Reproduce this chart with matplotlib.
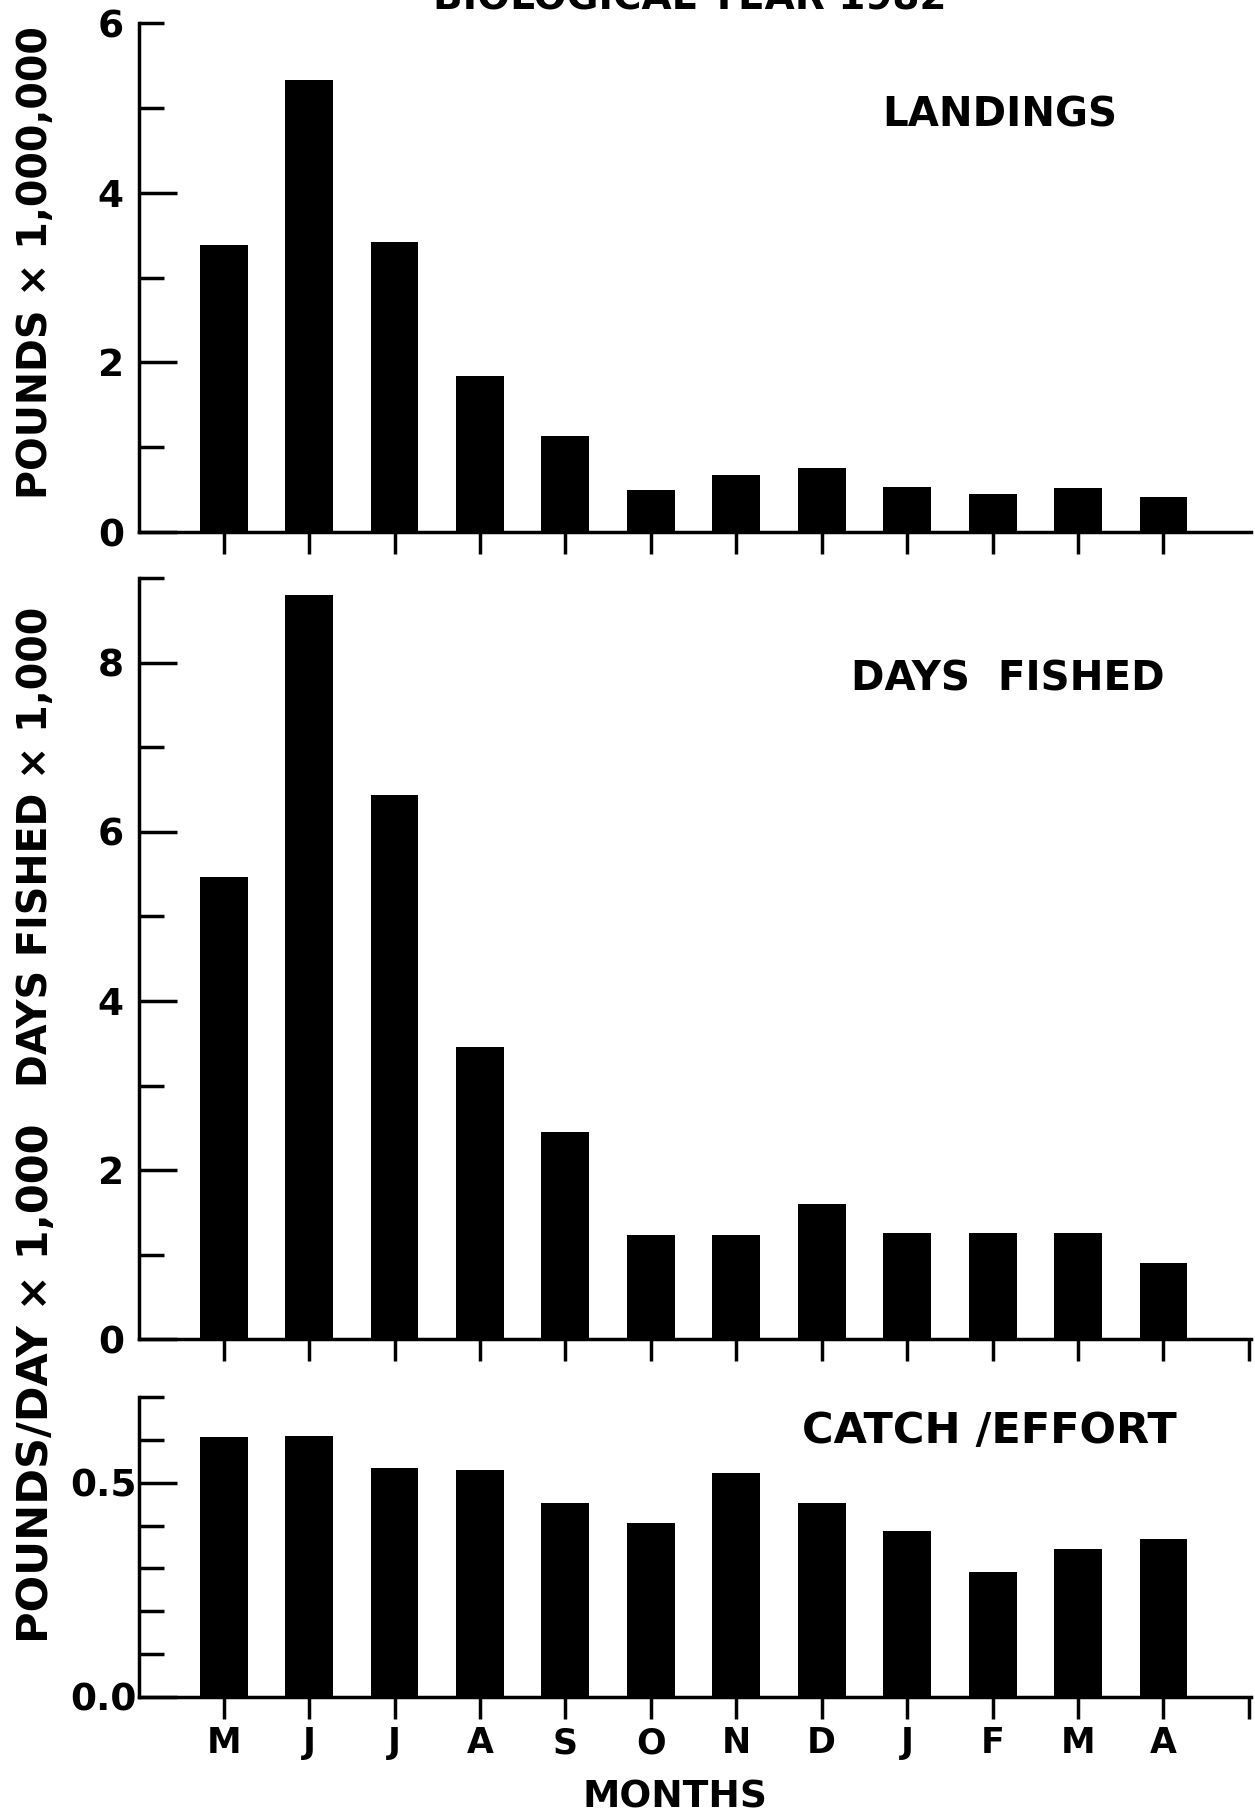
import matplotlib
matplotlib.use('Agg')
import matplotlib.pyplot as plt
import numpy as np
from matplotlib.ticker import FixedLocator, MultipleLocator

plt.rcParams['font.family'] = ['DejaVu Sans']
plt.rcParams['font.weight'] = 'bold'

months = ['M', 'J', 'J', 'A', 'S', 'O', 'N', 'D', 'J', 'F', 'M', 'A']
landings = [3.38, 5.33, 3.42, 1.84, 1.13, 0.50, 0.67, 0.75, 0.53, 0.45, 0.52, 0.41]
days_fished = [5.47, 8.80, 6.43, 3.46, 2.45, 1.23, 1.24, 1.60, 1.26, 1.26, 1.26, 0.90]
catch_effort = [0.608, 0.610, 0.534, 0.531, 0.454, 0.406, 0.524, 0.453, 0.387, 0.291, 0.346, 0.369]

x = np.arange(len(months))
width = 0.56
lw = 2.5

fig = plt.figure(figsize=(12.55, 18.14), dpi=100)

left = 0.1108
w = 0.8864
ax1 = fig.add_axes([left, 0.7067, w, 0.2806])
ax2 = fig.add_axes([left, 0.2616, w, 0.4198])
ax3 = fig.add_axes([left, 0.0645, w, 0.1653])


def style(ax, vals, ymax, majors, minor_step, end_tick=False):
    ax.bar(x, vals, width, color='black')
    ax.set_xlim(-0.99, 12.03)
    ax.set_ylim(0, ymax)
    for s in ['top', 'right']:
        ax.spines[s].set_visible(False)
    ax.spines['left'].set_linewidth(lw)
    ax.spines['bottom'].set_linewidth(lw)
    ax.yaxis.set_major_locator(FixedLocator(majors))
    ax.yaxis.set_minor_locator(MultipleLocator(minor_step))
    ax.tick_params(axis='y', which='major', direction='in', length=27, width=lw,
                   labelsize=27, pad=11)
    ax.tick_params(axis='y', which='minor', direction='in', length=18, width=lw)
    ticks = list(x)
    if end_tick:
        ticks.append(12)
    ax.set_xticks(ticks)
    ax.set_xticklabels([])
    ax.tick_params(axis='x', direction='out', length=16, width=lw)


style(ax1, landings, 6, [0, 2, 4, 6], 1)
ax1.yaxis.get_major_ticks()[-1].tick1line.set_markersize(18)
ax1.set_yticklabels(['0', '2', '4', '6'])

style(ax2, days_fished, 9, [0, 2, 4, 6, 8], 1, end_tick=True)
ax2.set_yticklabels(['0', '2', '4', '6', '8'])

style(ax3, catch_effort, 0.7, [0.0, 0.5], 0.1, end_tick=True)
ax3.set_yticklabels(['0.0', '0.5'])
ax3.tick_params(axis='y', which='major', pad=2)
ax3.set_xticklabels(months + [''], fontsize=25)
ax3.tick_params(axis='x', pad=5)

# panel titles
ax1.text(0.774, 0.818, 'LANDINGS', transform=ax1.transAxes, fontsize=29,
         ha='center', va='center')
ax2.text(0.781, 0.866, 'DAYS  FISHED', transform=ax2.transAxes, fontsize=29,
         ha='center', va='center')
ax3.text(0.764, 0.887, 'CATCH /EFFORT', transform=ax3.transAxes, fontsize=31,
         ha='center', va='center')

# y axis labels
fig.text(0.029, 1 - 263 / 1814, 'POUNDS × 1,000,000', rotation=90, fontsize=28.5,
         ha='center', va='center')
fig.text(0.029, 1 - 847 / 1814, 'DAYS FISHED × 1,000', rotation=90, fontsize=28.5,
         ha='center', va='center')
fig.text(0.029, 1 - 1383 / 1814, 'POUNDS/DAY × 1,000', rotation=90, fontsize=31,
         ha='center', va='center')

fig.text(675 / 1255, 1 - 1797 / 1814, 'MONTHS', fontsize=27, ha='center', va='center')
fig.text(690 / 1255, 1 - 9 / 1814, 'BIOLOGICAL YEAR 1982', fontsize=28,
         ha='center', va='baseline')

plt.savefig('out.png', dpi=100)
